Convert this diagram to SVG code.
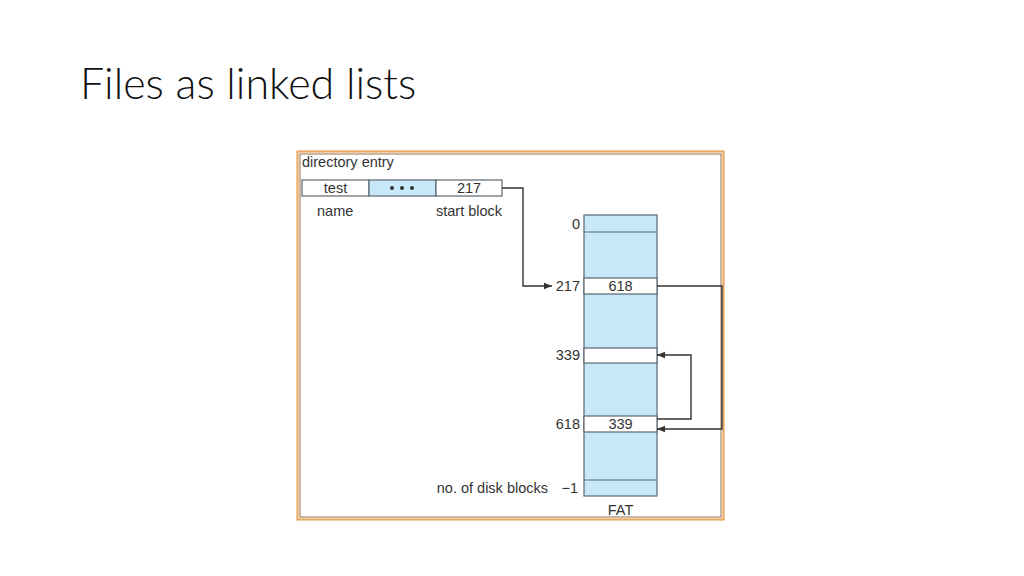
<svg xmlns="http://www.w3.org/2000/svg" width="1024" height="576" viewBox="0 0 1024 576">
<style>
.t{font-family:"Liberation Sans",Arial,sans-serif;font-size:14.5px;fill:#333}
.c{text-anchor:middle}
.r{text-anchor:end}
.box{stroke:#5b6670;stroke-width:1.2}
.blue{fill:#c6e8f8}
.white{fill:#fff}
.ln{fill:none;stroke:#333;stroke-width:1.4}
</style>
<defs>
<marker id="ah" viewBox="0 0 10 10" refX="10" refY="5" markerWidth="8" markerHeight="8" orient="auto-start-reverse" markerUnits="userSpaceOnUse">
<path d="M0,1 L10,5 L0,9 z" fill="#333"/>
</marker>
</defs>
<rect width="1024" height="576" fill="#fff"/>
<text x="80" y="99" font-family="Lato, 'Open Sans', sans-serif" font-weight="300" font-size="43" fill="#111">Files as linked lists</text>
<g id="frame">
<rect x="297.5" y="151.5" width="426" height="368" fill="#fff" stroke="#eaa862" stroke-width="2.2"/>
<rect x="300" y="154" width="421" height="363" fill="none" stroke="#7a4a1e" stroke-width="0.8"/>
</g>
<g id="directory">
<text class="t" x="302" y="167">directory entry</text>
<rect class="box white" x="302" y="180" width="67" height="16"/>
<rect class="box blue" x="369" y="180" width="67" height="16"/>
<rect class="box white" x="436" y="180" width="66" height="16"/>
<text class="t c" x="335.5" y="193">test</text>
<g fill="#333"><circle cx="392" cy="188" r="2"/><circle cx="402" cy="188" r="2"/><circle cx="412" cy="188" r="2"/></g>
<text class="t c" x="469" y="193">217</text>
<text class="t" x="317" y="216">name</text>
<text class="t" x="436" y="216">start block</text>
</g>
<g id="fat">
<rect class="box blue" x="584" y="215" width="73" height="281"/>
<line class="box" x1="584" y1="232" x2="657" y2="232"/>
<rect class="box white" x="584" y="278" width="73" height="16"/>
<rect class="box white" x="584" y="348" width="73" height="15"/>
<rect class="box white" x="584" y="416" width="73" height="16"/>
<line class="box" x1="584" y1="480" x2="657" y2="480"/>
<text class="t c" x="620.5" y="291">618</text>
<text class="t c" x="620.5" y="429">339</text>
<text class="t r" x="580" y="229">0</text>
<text class="t r" x="580" y="291">217</text>
<text class="t r" x="580" y="360">339</text>
<text class="t r" x="580" y="429">618</text>
<text class="t r" x="578" y="493">−1</text>
<text class="t r" x="548" y="493">no. of disk blocks</text>
<text class="t c" x="620.5" y="515">FAT</text>
</g>
<g id="connectors">
<polyline class="ln" points="502,188 523,188 523,286 552,286" marker-end="url(#ah)"/>
<polyline class="ln" points="657,286 722,286 722,429 657,429" marker-end="url(#ah)"/>
<polyline class="ln" points="657,419 691,419 691,355 657,355" marker-end="url(#ah)"/>
</g>
</svg>
